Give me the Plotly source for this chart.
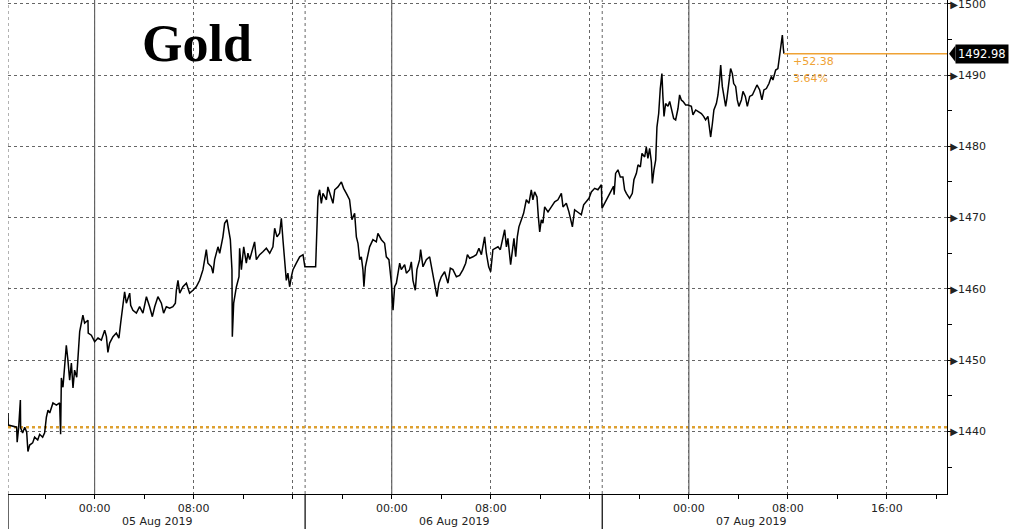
import pandas as pd
import plotly.graph_objects as go

# ---------------- data ----------------
# time of each price, in hours from 05 Aug 2019 00:00
hours_from_aug5 = [
    -7.00, -6.98, -6.30, -6.26, -6.14, -6.00, -5.98, -5.82, -5.65, -5.49,
    -5.39, -5.25, -5.01, -4.85, -4.60, -4.44, -4.20, -4.04, -3.90, -3.77,
    -3.63, -3.50, -3.37, -3.09, -2.83, -2.75, -2.69, -2.56, -2.42, -2.29,
    -2.16, -2.02, -1.88, -1.75, -1.62, -1.45, -1.21, -0.95, -0.81, -0.54,
    -0.52, -0.27, 0.00, 0.27, 0.54, 0.81, 0.95, 1.07, 1.21, 1.48,
    1.75, 1.96, 2.10, 2.29, 2.42, 2.56, 2.83, 2.91, 3.09, 3.37,
    3.63, 3.90, 4.18, 4.44, 4.66, 4.85, 5.11, 5.39, 5.57, 5.79,
    6.06, 6.32, 6.52, 6.60, 6.73, 6.87, 7.13, 7.41, 7.67, 7.94,
    8.21, 8.48,
    8.75, 9.02, 9.15, 9.43, 9.56, 9.69, 9.96, 10.10, 10.23, 10.36,
    10.50, 10.69, 10.82, 10.96, 11.09, 11.12, 11.23, 11.45, 11.66, 11.71,
    11.85, 12.04, 12.25, 12.38, 12.52, 12.66, 12.92, 13.06, 13.33, 13.59,
    13.87, 14.14, 14.40, 14.54, 14.73, 14.94, 15.08, 15.21, 15.35, 15.48,
    15.61, 15.75, 15.89, 16.02, 16.29, 16.56, 16.83, 16.98,
    17.85, 17.91, 18.04, 18.17, 18.31, 18.44, 18.72, 18.84, 18.98, 19.25,
    19.39, 19.65, 19.93, 20.11, 20.33, 20.59, 20.78, 21.00, 21.14, 21.27,
    21.41, 21.54, 21.67, 21.75, 21.87, 22.08, 22.21, 22.48, 22.75, 22.88,
    23.16, 23.42,
    23.56, 23.77, 23.97, 24.10, 24.23, 24.37, 24.64, 24.77, 25.04, 25.18,
    25.44, 25.58, 25.71, 25.90, 26.03, 26.25, 26.33, 26.52, 26.79, 27.06,
    27.28, 27.46, 27.65, 27.81, 28.00, 28.27, 28.54, 28.73, 28.94, 29.22,
    29.48, 29.75, 29.97, 30.11, 30.29, 30.56, 30.83, 31.04, 31.24, 31.50,
    31.64, 31.83, 31.99, 32.17, 32.39, 32.58, 32.77, 32.98, 33.12, 33.26,
    33.38, 33.60, 33.74, 33.87, 34.01, 34.14, 34.27, 34.47, 34.65, 34.87,
    35.08, 35.27, 35.40, 35.54, 35.73, 35.84, 35.95, 36.08, 36.21, 36.35,
    36.62, 36.89, 37.16, 37.42, 37.70, 37.83, 38.10, 38.31, 38.51, 38.59,
    38.77, 39.04, 39.31, 39.50, 39.72, 39.93, 40.12, 40.39, 40.65, 40.93,
    40.98,
    41.92, 41.96, 42.08, 42.27, 42.46, 42.67, 42.81, 42.95, 43.21, 43.43,
    43.56, 43.76, 43.89, 44.08, 44.21, 44.43, 44.56, 44.69, 44.83, 44.97,
    45.05, 45.18, 45.32, 45.42, 45.56, 45.69, 45.82, 45.90, 45.99, 46.12,
    46.31, 46.45, 46.58, 46.77, 46.93, 47.12, 47.25, 47.39, 47.52, 47.74,
    47.92, 48.20, 48.33, 48.55, 48.73, 49.01, 49.19, 49.35, 49.54, 49.68,
    49.76, 49.90, 50.02, 50.22, 50.35, 50.48, 50.57, 50.70, 50.81, 50.97,
    51.07, 51.24, 51.37, 51.51, 51.62, 51.78, 51.91, 52.04, 52.24, 52.37,
    52.56, 52.72, 52.91, 53.13, 53.31, 53.50, 53.72, 53.90, 54.06, 54.26,
    54.47, 54.66, 54.79, 55.01, 55.19, 55.33, 55.47, 55.55, 55.63, 55.68,
]

gold_price = [
    1442.6, 1440.9, 1440.6, 1438.5, 1440.5, 1444.4, 1440.5, 1439.8, 1440.6, 1439.9,
    1437.2, 1438.1, 1438.4, 1439.2, 1438.8, 1439.6, 1439.2, 1439.8, 1442.0, 1443.0,
    1442.6, 1443.2, 1444.0, 1443.7, 1444.0, 1439.6, 1447.5, 1446.2, 1450.0, 1452.1,
    1450.0, 1447.2, 1449.6, 1446.1, 1448.6, 1447.6, 1454.0, 1456.3, 1455.2, 1455.6,
    1453.8, 1453.5, 1452.6, 1453.1, 1452.8, 1454.2, 1453.3, 1451.1, 1452.4, 1453.3,
    1453.8, 1453.1, 1455.2, 1458.4, 1459.6, 1458.0, 1459.4, 1457.7, 1457.0, 1456.6,
    1457.5, 1456.6, 1458.9, 1457.5, 1456.1, 1457.5, 1458.9, 1458.0, 1456.6, 1457.5,
    1457.3, 1457.5, 1458.0, 1459.8, 1461.2, 1459.4, 1460.3, 1460.8, 1459.4, 1459.8,
    1460.3, 1461.2,
    1462.7, 1465.5, 1463.6, 1463.1, 1462.2, 1464.1, 1465.9, 1465.0, 1466.2, 1467.3,
    1469.2, 1469.7, 1468.3, 1466.9, 1462.7, 1453.3, 1458.0, 1460.3, 1461.7, 1465.7,
    1462.7, 1465.9, 1463.6, 1465.0, 1464.1, 1465.0, 1466.6, 1464.1, 1464.8, 1465.2,
    1465.7, 1465.0, 1465.9, 1468.5, 1467.3, 1467.8, 1469.9, 1466.9, 1463.1, 1461.2,
    1462.2, 1460.3, 1461.7, 1462.7, 1463.6, 1464.5, 1464.8, 1463.1,
    1463.1, 1466.4, 1472.9, 1473.9, 1472.0, 1473.4, 1472.5, 1474.3, 1473.4, 1472.0,
    1473.9, 1474.3, 1475.0, 1474.1, 1473.4, 1472.5, 1469.7, 1470.6, 1467.3, 1466.4,
    1464.1, 1464.5, 1462.7, 1460.3, 1463.1, 1465.0, 1465.9, 1466.9, 1466.6, 1467.8,
    1466.9, 1466.4,
    1464.5, 1464.1, 1460.8, 1457.0, 1460.3, 1460.8, 1463.6, 1462.7, 1463.4, 1462.2,
    1462.7, 1463.8, 1461.2, 1459.8, 1462.7, 1464.1, 1465.5, 1463.1, 1464.1, 1464.5,
    1462.2, 1460.8, 1458.9, 1460.8, 1461.7, 1462.4, 1460.8, 1462.9, 1462.7, 1461.7,
    1461.9, 1462.7, 1463.6, 1464.8, 1464.3, 1464.5, 1464.8, 1465.7, 1464.8, 1467.3,
    1465.0, 1463.1, 1462.4, 1465.5, 1465.7, 1465.9, 1465.5, 1467.1, 1468.3, 1465.9,
    1467.1, 1463.4, 1465.0, 1467.1, 1464.5, 1467.3, 1468.7, 1469.7, 1470.6, 1472.5,
    1472.0, 1473.9, 1472.5, 1473.6, 1472.9, 1470.1, 1468.0, 1469.7, 1469.2, 1471.5,
    1470.8, 1471.5, 1472.2, 1472.5, 1473.4, 1471.5, 1472.0, 1470.8, 1469.4, 1468.7,
    1471.1, 1470.8, 1470.4, 1471.8, 1472.2, 1472.7, 1473.6, 1474.1, 1473.9, 1474.6,
    1471.3,
    1474.4, 1473.2, 1476.2, 1476.7, 1475.7, 1475.7, 1473.9, 1473.4, 1472.7, 1473.4,
    1475.3, 1476.2, 1477.4, 1477.1, 1479.0, 1478.5, 1479.9, 1478.3, 1479.7, 1477.8,
    1474.8, 1476.7, 1478.1, 1482.7, 1484.6, 1488.1, 1490.2, 1487.0, 1484.2, 1486.0,
    1485.6, 1486.3, 1485.1, 1483.9, 1483.7, 1485.3, 1487.2, 1486.5, 1486.3, 1485.8,
    1485.8, 1485.6, 1484.4, 1485.1, 1484.9, 1484.6, 1484.2, 1483.7, 1484.2, 1482.7,
    1481.3, 1483.2, 1485.1, 1486.0, 1487.2, 1489.3, 1491.4, 1488.4, 1487.4, 1485.6,
    1486.7, 1488.8, 1490.9, 1490.2, 1488.8, 1488.4, 1486.5, 1485.6, 1486.5, 1487.7,
    1487.0, 1485.6, 1487.0, 1487.2, 1487.9, 1488.6, 1487.9, 1486.5, 1487.9, 1488.1,
    1488.8, 1489.8, 1489.3, 1490.7, 1490.9, 1492.6, 1494.4, 1495.6, 1493.7, 1492.98,
]

ref_price = 1440.60          # starting level (orange dotted line)
last_price = 1492.98
change_abs = "+52.38"
change_pct = "3.64%"
title_text = "Gold"

y_ticks = [1440, 1450, 1460, 1470, 1480, 1490, 1500]

x_tick_times = ["2019-08-05 00:00", "2019-08-05 08:00", "2019-08-05 16:00",
                "2019-08-06 00:00", "2019-08-06 08:00", "2019-08-06 16:00",
                "2019-08-07 00:00", "2019-08-07 08:00", "2019-08-07 16:00"]
x_tick_labels = ["00:00", "08:00", "", "00:00", "08:00", "", "00:00", "08:00", "16:00"]

midnights = ["2019-08-05 00:00", "2019-08-06 00:00", "2019-08-07 00:00"]
session_breaks = ["2019-08-04 17:00", "2019-08-05 17:00", "2019-08-06 17:00"]
date_labels = ["05 Aug 2019", "06 Aug 2019", "07 Aug 2019"]
date_label_pos = ["2019-08-05 05:00", "2019-08-06 05:00", "2019-08-07 05:00"]

x_start = "2019-08-04 17:00"
x_end = "2019-08-07 20:51"
y_min, y_max = 1431.23, 1500.52

# ---------------- figure ----------------
base = pd.Timestamp("2019-08-05 00:00")
times = base + pd.to_timedelta(hours_from_aug5, unit="h")

ORANGE = "#EFA234"
GRID = "#666666"
FONT = "DejaVu Sans"

fig = go.Figure()
fig.add_trace(go.Scatter(
    x=times, y=gold_price, mode="lines",
    line=dict(color="black", width=1.5),
    hoverinfo="skip", showlegend=False,
))

shapes = []
# solid midnight lines
for m in midnights:
    shapes.append(dict(type="line", xref="x", yref="paper", x0=m, x1=m, y0=0, y1=1,
                       line=dict(color="#444444", width=1), layer="below"))
# session separators: dotted inside, solid below the axis
for s in session_breaks:
    shapes.append(dict(type="line", xref="x", yref="paper", x0=s, x1=s, y0=0, y1=1,
                       line=dict(color=GRID, width=1, dash="dot"), layer="below"))
    shapes.append(dict(type="line", xref="x", yref="paper", x0=s, x1=s, y0=0, y1=-0.075,
                       line=dict(color="black", width=1.2)))
# orange reference (start) level
shapes.append(dict(type="line", xref="paper", yref="y", x0=0, x1=1, y0=ref_price, y1=ref_price,
                   line=dict(color="#DDA030", width=2.5, dash="dot"), layer="below"))
# last price line
shapes.append(dict(type="line", xref="x", yref="y", x0=times[-1], x1=x_end,
                   y0=last_price, y1=last_price, line=dict(color=ORANGE, width=1.3)))
# pointer of the last-price tag
shapes.append(dict(type="path", xref="paper", yref="y",
                   path=f"M 1.0022,{last_price} L 1.0090,{last_price + 1.15} L 1.0090,{last_price - 1.15} Z",
                   fillcolor="black", line=dict(width=0)))

annotations = [
    dict(text="<b>" + title_text + "</b>", xref="paper", yref="paper", x=0.1405, y=0.911,
         xanchor="left", yanchor="middle", showarrow=False,
         font=dict(family="Liberation Serif", size=52, color="black")),
    dict(text=change_abs, xref="paper", yref="paper", x=0.834, y=0.8745,
         xanchor="left", yanchor="middle", showarrow=False,
         font=dict(family=FONT, size=11, color=ORANGE)),
    dict(text=change_pct, xref="paper", yref="paper", x=0.834, y=0.842,
         xanchor="left", yanchor="middle", showarrow=False,
         font=dict(family=FONT, size=11, color=ORANGE)),
    dict(text=f"{last_price:.2f}", xref="paper", yref="y", x=1.0085, y=last_price,
         xanchor="left", yanchor="middle", showarrow=False, bgcolor="black",
         borderpad=2, font=dict(family=FONT, size=11.5, color="white")),
]
for lbl, pos in zip(date_labels, date_label_pos):
    annotations.append(dict(text=lbl, xref="x", yref="paper", x=pos, y=-0.0547,
                            xanchor="center", yanchor="middle", showarrow=False,
                            font=dict(family=FONT, size=11, color="#222222")))

tri = '<span style="font-size:10px">\u25B6</span>'
fig.update_layout(
    template="none",
    width=1012, height=529, autosize=False,
    margin=dict(l=8, r=65, t=0, b=35, pad=0),
    paper_bgcolor="white", plot_bgcolor="white",
    shapes=shapes, annotations=annotations,
    showlegend=False,
    xaxis=dict(
        type="date", range=[x_start, x_end], automargin=False,
        tickmode="array", tickvals=x_tick_times, ticktext=x_tick_labels,
        showgrid=True, gridcolor=GRID, griddash="dot", gridwidth=1,
        showline=True, linecolor="black", linewidth=1.2,
        ticks="outside", ticklen=4, tickcolor="black",
        minor=dict(dtick=4 * 3600 * 1000, tick0="2019-08-05 00:00", ticks="outside",
                   ticklen=4, tickcolor="black", showgrid=False),
        tickfont=dict(family=FONT, size=11, color="#222222"),
        zeroline=False, fixedrange=True,
    ),
    yaxis=dict(
        range=[y_min, y_max], side="right", automargin=False,
        tickmode="array", tickvals=y_ticks, ticktext=[tri + str(v) for v in y_ticks],
        showgrid=True, gridcolor=GRID, griddash="dot", gridwidth=1,
        showline=True, linecolor="black", linewidth=1.2,
        ticks="", ticklabelstandoff=0, ticklabeloverflow="allow",
        minor=dict(dtick=5, tick0=1440, ticks="outside", ticklen=4, tickcolor="black",
                   showgrid=False),
        tickfont=dict(family=FONT, size=11, color="#222222"),
        zeroline=False, fixedrange=True,
    ),
)

# remove the browser's default page margin so the figure sits at the window's top-left
fig.write_html("out.html", config={"displayModeBar": False},
               post_script="document.body.style.margin='0';")
